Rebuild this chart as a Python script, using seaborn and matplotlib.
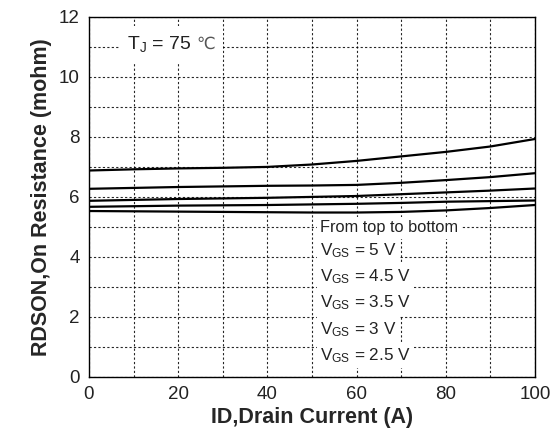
import matplotlib
matplotlib.use("Agg")
import matplotlib.pyplot as plt
import seaborn as sns
import pandas as pd
import numpy as np
from matplotlib.ticker import MultipleLocator

# Data
current_a = [0, 10, 20, 30, 40, 50, 60, 70, 80, 90, 100]
rds_vgs_5 = [6.88, 6.92, 6.95, 6.97, 7.00, 7.08, 7.20, 7.35, 7.50, 7.68, 7.93]
rds_vgs_4_5 = [6.27, 6.30, 6.33, 6.35, 6.37, 6.38, 6.40, 6.47, 6.56, 6.66, 6.79]
rds_vgs_3_5 = [5.87, 5.90, 5.93, 5.95, 5.97, 6.00, 6.03, 6.09, 6.15, 6.21, 6.28]
rds_vgs_3 = [5.67, 5.69, 5.71, 5.72, 5.73, 5.75, 5.77, 5.80, 5.84, 5.86, 5.88]
rds_vgs_2_5 = [5.53, 5.52, 5.51, 5.50, 5.49, 5.48, 5.48, 5.50, 5.55, 5.63, 5.73]
series_labels = ["VGS = 5 V", "VGS = 4.5 V", "VGS = 3.5 V", "VGS = 3 V", "VGS = 2.5 V"]
x_ticks = [0, 20, 40, 60, 80, 100]
y_ticks = [0, 2, 4, 6, 8, 10, 12]

rows = []
for lab, vals in zip(series_labels, [rds_vgs_5, rds_vgs_4_5, rds_vgs_3_5, rds_vgs_3, rds_vgs_2_5]):
    for x, y in zip(current_a, vals):
        rows.append({"ID": x, "RDSON": y, "VGS": lab})
df = pd.DataFrame(rows)

sns.set_theme(style="white")
plt.rcParams['font.family'] = ['Liberation Sans', 'DejaVu Sans']
plt.rcParams['mathtext.fontset'] = 'custom'
plt.rcParams['mathtext.rm'] = 'Liberation Sans'
plt.rcParams['mathtext.it'] = 'Liberation Sans'

fig = plt.figure(figsize=(5.56, 4.45), dpi=100)
ax = fig.add_axes([0.160, 0.153, 0.802, 0.809])

sns.lineplot(data=df, x="ID", y="RDSON", units="VGS", estimator=None,
             color="black", linewidth=1.6, ax=ax, legend=False)

ax.set_xlim(0, 100)
ax.set_ylim(0, 12)
ax.set_xticks(x_ticks)
ax.set_yticks(y_ticks)
ax.xaxis.set_minor_locator(MultipleLocator(10))
ax.yaxis.set_minor_locator(MultipleLocator(1))
ax.grid(which="both", linestyle=(0, (2, 2)), color="black", linewidth=0.8, alpha=0.85)
ax.set_axisbelow(True)
for s in ax.spines.values():
    s.set_color("black")
    s.set_linewidth(1.0)
ax.tick_params(axis="both", which="both", direction="inout", colors="black",
               labelsize=13.5, length=6, width=0.8, labelcolor="#222222")
ax.tick_params(which="minor", length=4)

ax.set_xlabel("ID,Drain Current (A)", fontsize=15.5, fontweight="bold", labelpad=3)
ax.set_ylabel("RDSON,On Resistance (mohm)", fontsize=15.5, fontweight="bold", labelpad=5)

t = ax.text(8.5, 11.1, r"T$_\mathregular{J}$ = 75", fontsize=14, va="center", ha="left",
            bbox=dict(facecolor="white", edgecolor="none", pad=6), color="#222222")
ax.annotate("℃", xy=(1, 0.5), xycoords=t, xytext=(4, 0), textcoords="offset points",
            va="center", ha="left", fontsize=12, family="DejaVu Sans", color="#555555",
            bbox=dict(facecolor="white", edgecolor="none", pad=5))

bb = dict(facecolor="white", edgecolor="none", pad=2.5)
ax.text(51.8, 4.97, "From top to bottom", fontsize=11.8, va="center", ha="left", bbox=bb, color="#222222")
vgs_text = ["5 V", "4.5 V", "3.5 V", "3 V", "2.5 V"]
for i, tt in enumerate(vgs_text):
    ax.text(51.8, 4.22 - i * 0.877, r"V$_\mathregular{GS}$ = " + tt, fontsize=12.3, va="center",
            ha="left", bbox=bb, color="#222222")

fig.savefig("out.png", dpi=100)
